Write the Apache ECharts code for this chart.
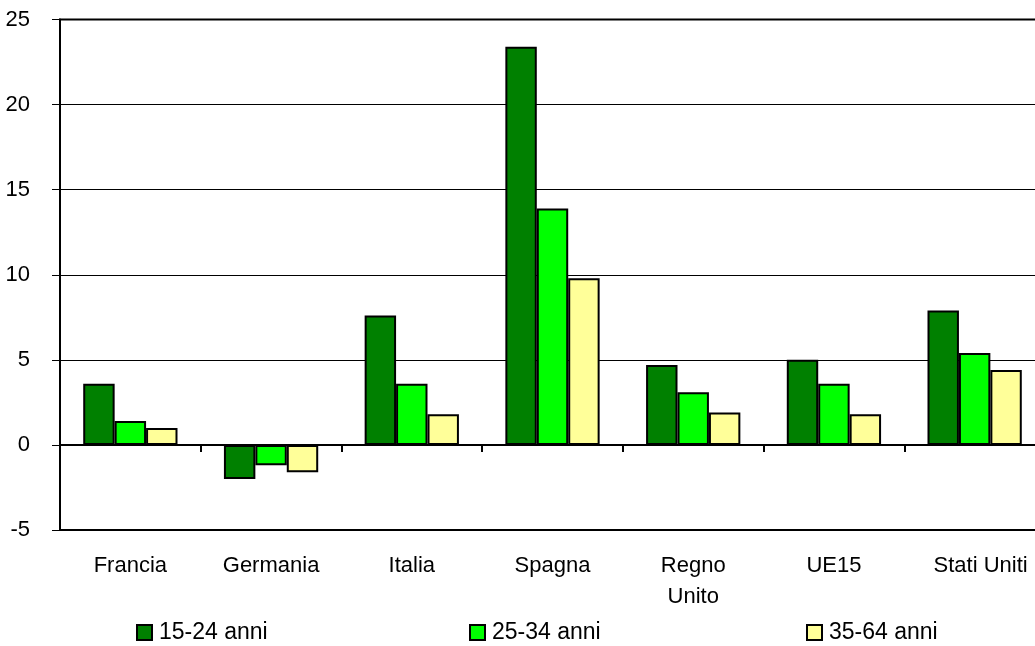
<!DOCTYPE html>
<html>
<head>
<meta charset="utf-8">
<script src="https://cdn.jsdelivr.net/npm/echarts@6/dist/echarts.min.js"></script>
<style>
html,body{margin:0;padding:0;background:#fff;}
#chart{width:1035px;height:646px;}
</style>
</head>
<body>
<div id="chart"></div>
<script>
const categories = ['Francia', 'Germania', 'Italia', 'Spagna', 'Regno\nUnito', 'UE15', 'Stati Uniti'];
const seriesNames = ['15-24 anni', '25-34 anni', '35-64 anni'];
const values1524 = [3.6, -2.0, 7.6, 23.4, 4.7, 5.0, 7.9];
const values2534 = [1.4, -1.2, 3.6, 13.9, 3.1, 3.6, 5.4];
const values3564 = [1.0, -1.6, 1.8, 9.8, 1.9, 1.8, 4.4];
const colors = ['#008000', '#00FF00', '#FFFF99'];

const FONT = 'Liberation Sans, Arial, sans-serif';
const chart = echarts.init(document.getElementById('chart'), null, {renderer: 'canvas'});
const allValues = [values1524, values2534, values3564];

const series = allValues.map((vals, i) => ({
  name: seriesNames[i],
  type: 'bar',
  xAxisIndex: 0,
  yAxisIndex: 0,
  data: vals,
  barGap: '0%',
  barCategoryGap: '33%',
  itemStyle: {color: colors[i], borderColor: '#000', borderWidth: 2},
  emphasis: {disabled: true},
  animation: false
}));

const legendLefts = [131, 464, 801];
const legends = seriesNames.map((n, i) => ({
  data: [n],
  left: legendLefts[i],
  top: 616,
  orient: 'horizontal',
  itemWidth: 15,
  itemHeight: 15,
  icon: 'rect',
  textStyle: {fontFamily: FONT, fontSize: 23, color: '#000', padding: [0, 0, 0, 2]},
  selectedMode: false
}));

const lastCat = categories[categories.length - 1];

chart.setOption({
  animation: false,
  backgroundColor: '#fff',
  grid: {left: 60, width: 985, top: 19.5, bottom: 116, outerBoundsMode: 'none', containLabel: false, show: true, borderColor: '#000', borderWidth: 2, backgroundColor: 'transparent'},
  legend: legends,
  xAxis: [
    {
      type: 'category',
      data: categories,
      position: 'bottom',
      axisLine: {show: false, onZero: false},
      axisTick: {show: false},
      axisLabel: {
        fontFamily: FONT, fontSize: 22, color: '#000', margin: 20, lineHeight: 31, interval: 0,
        formatter: function (v) { return v === lastCat ? '{s|' + v + '}' : v; },
        rich: {s: {fontFamily: FONT, fontSize: 22, color: '#000', lineHeight: 31, padding: [0, 0, 0, 12]}}
      },
      splitLine: {show: false}
    },
    {
      type: 'category',
      data: categories,
      position: 'bottom',
      axisLine: {show: true, onZero: true, lineStyle: {color: '#000', width: 2}},
      axisTick: {show: true, length: 7, lineStyle: {color: '#000', width: 2}},
      axisLabel: {show: false},
      splitLine: {show: false}
    }
  ],
  yAxis: {
    type: 'value',
    min: -5,
    max: 25,
    interval: 5,
    axisLine: {show: true, lineStyle: {color: '#000', width: 2}},
    axisTick: {show: true, length: 8, lineStyle: {color: '#000', width: 1}},
    axisLabel: {fontFamily: FONT, fontSize: 22, color: '#000', margin: 30},
    splitLine: {show: true, lineStyle: {color: '#000', width: 1}}
  },
  series: series
});
</script>
</body>
</html>
